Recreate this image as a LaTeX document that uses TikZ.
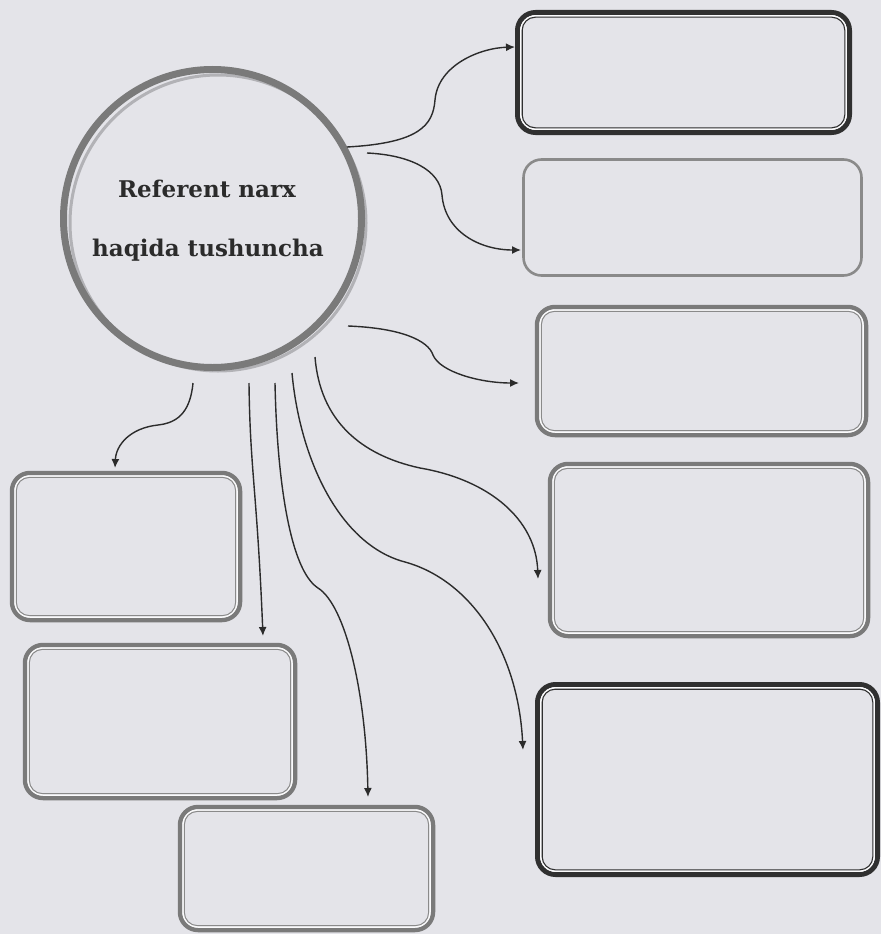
\documentclass[tikz,border=0pt]{standalone}
\usepackage{fontspec}
\setmainfont{DejaVu Serif}
\usetikzlibrary{arrows.meta,calc}
\definecolor{bg}{HTML}{E4E4E9}
\definecolor{ink}{HTML}{2B2B2B}
\definecolor{darkline}{HTML}{303030}
\definecolor{grayline}{HTML}{7A7A7A}
\definecolor{midgray}{HTML}{8A8A8A}
\definecolor{lightline}{HTML}{B2B2B6}
\begin{document}
\begin{tikzpicture}[x=1pt,y=-1pt,
  boxbase/.style={rectangle, rounded corners=18pt, inner sep=0pt, outer sep=0pt},
  darkbox/.style={boxbase, draw=darkline, line width=5pt},
  graybox/.style={boxbase, draw=grayline, line width=4.5pt},
  plainbox/.style={boxbase, draw=midgray, line width=2.6pt},
  gapline/.style={draw=white!85!bg, line width=1.5pt, rounded corners=15pt},
  darkinner/.style={draw=darkline, line width=1.1pt, rounded corners=13pt},
  grayinner/.style={draw=midgray, line width=1pt, rounded corners=13pt},
  conn/.style={draw=ink, line width=1.4pt, -{Latex[length=9pt,width=8pt]}},
  title/.style={font=\bfseries\fontsize{23}{28}\selectfont, text=ink, align=center}
]
\useasboundingbox[fill=bg] (0,0) rectangle (881,934);

% central circle
\draw[lightline, line width=3pt] (218,223) circle[radius=148];
\node[circle, draw=grayline, line width=7pt, minimum size=298pt, inner sep=0pt, outer sep=0pt] (c) at (212.5,218.5) {};
\node[title] (t1) at (207,189) {Referent narx};
\node[title] (t2) at (208,250) {haqida tushuncha};

% boxes
\node[darkbox, minimum width=332pt, minimum height=120pt] (b1) at (683.5,72.5) {};
\node[plainbox, minimum width=338pt, minimum height=116pt] (b2) at (692.5,217.5) {};
\node[graybox, minimum width=329pt, minimum height=128pt] (b3) at (701.5,371) {};
\node[graybox, minimum width=318pt, minimum height=172pt] (b4) at (709,550) {};
\node[darkbox, minimum width=340pt, minimum height=190pt] (b5) at (707.5,779.5) {};
\node[graybox, minimum width=228pt, minimum height=147pt] (b6) at (126,546.5) {};
\node[graybox, minimum width=270pt, minimum height=153pt] (b7) at (160,721.5) {};
\node[graybox, minimum width=253pt, minimum height=123pt] (b8) at (306.5,868.5) {};

% inner lines of double boxes
\foreach \n in {b1,b5} {
  \draw[gapline] ($(\n.north west)+(3.3,3.3)$) rectangle ($(\n.south east)+(-3.3,-3.3)$);
  \draw[darkinner] ($(\n.north west)+(4.7,4.7)$) rectangle ($(\n.south east)+(-4.7,-4.7)$);
}
\foreach \n in {b3,b4,b6,b7,b8} {
  \draw[gapline] ($(\n.north west)+(3,3)$) rectangle ($(\n.south east)+(-3,-3)$);
  \draw[grayinner] ($(\n.north west)+(4.4,4.4)$) rectangle ($(\n.south east)+(-4.4,-4.4)$);
}

% connector end points
\coordinate (s1) at (347,147);  \coordinate (e1) at (515,47);
\coordinate (s2) at (367,153);  \coordinate (e2) at (521,250);
\coordinate (s3) at (348,326);  \coordinate (e3) at (519,383);
\coordinate (s4) at (193,383);  \coordinate (e4) at (115,468);
\coordinate (s5) at (249,383);  \coordinate (e5) at (263,636);
\coordinate (s6) at (275,383);  \coordinate (e6) at (368,797);
\coordinate (s7) at (292,373);  \coordinate (e7) at (523,750);
\coordinate (s8) at (315,357);  \coordinate (e8) at (538,579);

% connectors
\draw[conn] (s1) .. controls (420,143) and (433,125) .. (435,100)
                 .. controls (438,65) and (480,48) .. (e1);
\draw[conn] (s2) .. controls (410,155) and (440,170) .. (442,195)
                 .. controls (445,232) and (480,250) .. (e2);
\draw[conn] (s3) .. controls (400,328) and (428,340) .. (433,355)
                 .. controls (440,372) and (480,383) .. (e3);
\draw[conn] (s4) .. controls (190,415) and (175,423) .. (158,425)
                 .. controls (130,428) and (116,445) .. (e4);
\draw[conn] (s5) .. controls (250,470) and (257,490) .. (e5);
\draw[conn] (s6) .. controls (277,480) and (290,570) .. (318,588)
                 .. controls (345,605) and (366,690) .. (e6);
\draw[conn] (s7) .. controls (300,460) and (340,545) .. (405,562)
                 .. controls (470,580) and (518,650) .. (e7);
\draw[conn] (s8) .. controls (320,420) and (360,455) .. (420,468)
                 .. controls (490,480) and (536,520) .. (e8);
\end{tikzpicture}
\end{document}
